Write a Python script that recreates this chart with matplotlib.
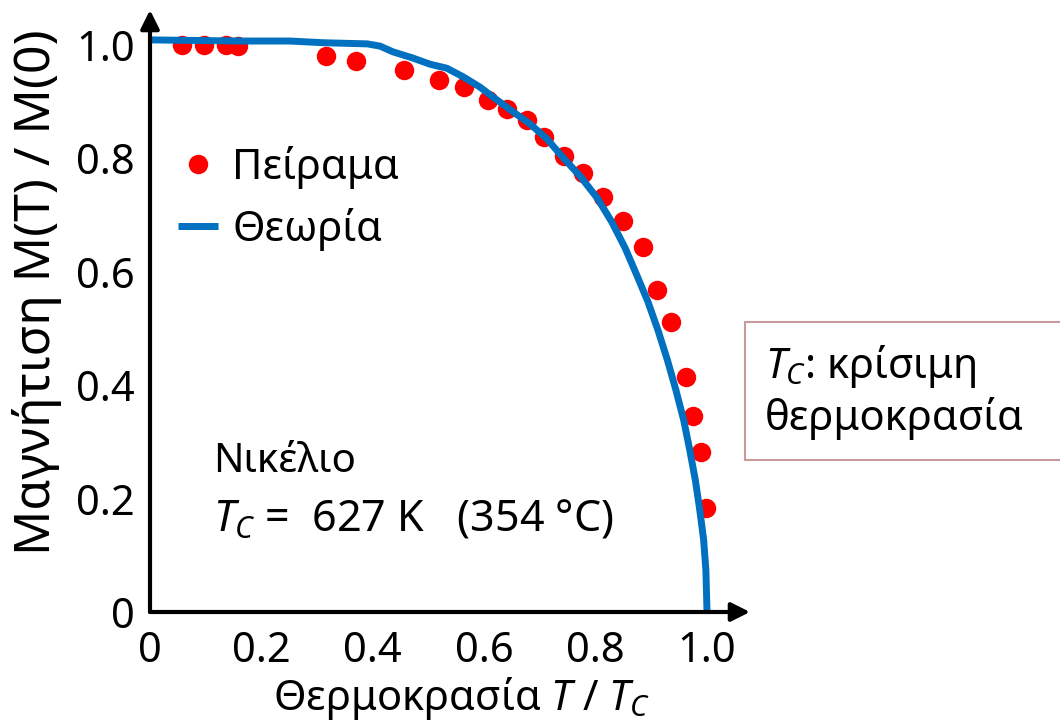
import matplotlib
matplotlib.use('Agg')
import matplotlib.pyplot as plt
from matplotlib.patches import Rectangle

plt.rcParams['font.family'] = ['Noto Sans', 'DejaVu Sans']
plt.rcParams['mathtext.fontset'] = 'custom'
plt.rcParams['mathtext.rm'] = 'Noto Sans'
plt.rcParams['mathtext.it'] = 'Noto Sans:italic'

# experiment (T/Tc, M(T)/M(0))
exp_t = [0.057, 0.097, 0.136, 0.158, 0.316, 0.370, 0.456, 0.519, 0.564, 0.607,
         0.641, 0.677, 0.707, 0.743, 0.777, 0.813, 0.849, 0.885, 0.910, 0.935,
         0.962, 0.975, 0.989, 0.998]
exp_m = [1.000, 1.000, 1.000, 0.998, 0.981, 0.972, 0.956, 0.938, 0.926, 0.903,
         0.887, 0.868, 0.838, 0.804, 0.774, 0.732, 0.690, 0.644, 0.568, 0.511,
         0.414, 0.346, 0.282, 0.183]

# theory curve
th_t = [0.000, 0.162, 0.251, 0.311, 0.390, 0.413, 0.436, 0.472, 0.503, 0.533,
        0.562, 0.592, 0.623, 0.652, 0.682, 0.713, 0.741, 0.772, 0.803, 0.829,
        0.853, 0.874, 0.894, 0.912, 0.929, 0.944, 0.958, 0.969, 0.979, 0.987,
        0.994, 0.998, 1.000]
th_m = [1.009, 1.007, 1.007, 1.004, 1.002, 0.998, 0.988, 0.977, 0.966, 0.959,
        0.944, 0.926, 0.903, 0.882, 0.861, 0.834, 0.802, 0.769, 0.730, 0.688,
        0.642, 0.594, 0.547, 0.497, 0.444, 0.392, 0.339, 0.286, 0.233, 0.180,
        0.127, 0.074, 0.000]

xticks = [0, 0.2, 0.4, 0.6, 0.8, 1.0]
xtick_labels = ['0', '0.2', '0.4', '0.6', '0.8', '1.0']
yticks = [0, 0.2, 0.4, 0.6, 0.8, 1.0]
ytick_labels = ['0', '0.2', '0.4', '0.6', '0.8', '1.0']

W, H = 1060, 724
fig = plt.figure(figsize=(W / 100, H / 100), dpi=100)
# axes box: x 150..750 px, y 612..10 px
ax = fig.add_axes([150 / W, (H - 612) / H, 600 / W, 602 / H])
ax.set_xlim(0, 600 / 557)
ax.set_ylim(0, 602 / 567)

ax.plot(exp_t, exp_m, 'o', color='#FF0000', markersize=14, markeredgewidth=0,
        label='Πείραμα', zorder=3)
ax.plot(th_t, th_m, '-', color='#0070C0', linewidth=5, label='Θεωρία',
        solid_capstyle='butt', solid_joinstyle='round', zorder=4)

for s in ax.spines.values():
    s.set_visible(False)
arrow = dict(arrowstyle='-|>', color='black', lw=3, mutation_scale=28,
             shrinkA=0, shrinkB=0)
ax.annotate('', xy=(1, 0), xytext=(0, 0), xycoords='axes fraction',
            textcoords='axes fraction', arrowprops=arrow, zorder=5)
ax.annotate('', xy=(0, 1), xytext=(0, 0), xycoords='axes fraction',
            textcoords='axes fraction', arrowprops=arrow, zorder=5)

ax.set_xticks(xticks)
ax.set_xticklabels(xtick_labels)
ax.set_yticks(yticks)
ax.set_yticklabels(ytick_labels)
ax.tick_params(axis='both', length=0, labelsize=30)
ax.tick_params(axis='x', pad=13)
ax.tick_params(axis='y', pad=11)

ax.set_xlabel('Θερμοκρασία $T$ / $T_C$', fontsize=30)
ax.xaxis.set_label_coords(312 / 600, -63 / 602)
ax.set_ylabel('Μαγνήτιση M(T) / M(0)', fontsize=36)
ax.yaxis.set_label_coords(-88 / 600, 320 / 602)

leg = ax.legend(loc='upper left', bbox_to_anchor=(28 / 600, (612 - 146) / 602),
                frameon=False, fontsize=30, handlelength=0.95, handletextpad=0.35,
                labelspacing=0.45, borderaxespad=0, borderpad=0)

fig.text(213 / W, 1 - 462 / H, 'Νικέλιο', fontsize=29, va='center', ha='left')
fig.text(213 / W, 1 - 520 / H, '$T_C$ =  627 K   (354 °C)', fontsize=31,
         va='center', ha='left')

box = Rectangle((745 / W, 1 - 460 / H), 320 / W, 138 / H, transform=fig.transFigure,
                facecolor='white', edgecolor='#C99A9A', linewidth=1.5)
fig.add_artist(box)
fig.text(765 / W, 1 - 367 / H, '$T_C$: κρίσιμη', fontsize=30, va='center', ha='left')
fig.text(765 / W, 1 - 418 / H, 'θερμοκρασία', fontsize=30, va='center', ha='left')

fig.savefig('out.png', dpi=100)
